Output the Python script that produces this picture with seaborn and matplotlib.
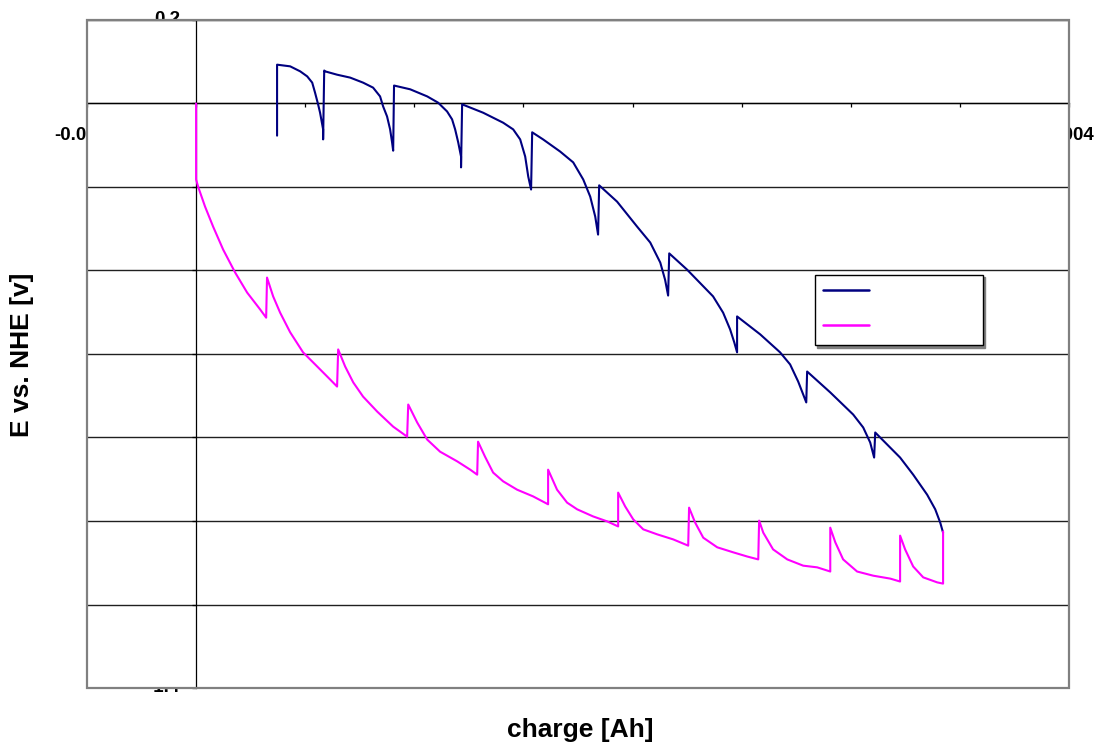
import numpy as np
import pandas as pd
import seaborn as sns
from matplotlib import pyplot as plt
from matplotlib.lines import Line2D
from matplotlib.patches import Rectangle

# upper (navy) sawtooth, charge in mAh and E in V
upper_q = [0.371, 0.371, 0.431, 0.477, 0.509, 0.532, 0.545, 0.559, 0.568, 0.582, 0.582,
           0.587, 0.591, 0.646, 0.706, 0.765, 0.811, 0.843, 0.857, 0.875, 0.889, 0.898, 0.903,
           0.907, 0.981, 1.059, 1.109, 1.150, 1.173, 1.187, 1.201, 1.214, 1.214,
           1.219, 1.315, 1.407, 1.453, 1.485, 1.508, 1.522, 1.535,
           1.540, 1.590, 1.668, 1.728, 1.774, 1.806, 1.829, 1.842,
           1.847, 1.929, 2.021, 2.081, 2.127, 2.149, 2.163,
           2.168, 2.250, 2.369, 2.415, 2.447, 2.466, 2.479,
           2.479, 2.585, 2.676, 2.722, 2.759, 2.782, 2.796,
           2.800, 2.906, 3.011, 3.057, 3.089, 3.107,
           3.112, 3.226, 3.286, 3.350, 3.387, 3.410, 3.423]
upper_e = [-0.077, 0.093, 0.089, 0.077, 0.065, 0.050, 0.026, -0.002, -0.022, -0.062, -0.086,
           0.079, 0.077, 0.069, 0.062, 0.050, 0.038, 0.017, -0.007, -0.031, -0.062, -0.093, -0.113,
           0.043, 0.034, 0.017, 0.002, -0.019, -0.038, -0.062, -0.093, -0.127, -0.153,
           -0.002, -0.022, -0.046, -0.062, -0.086, -0.127, -0.175, -0.206,
           -0.069, -0.086, -0.115, -0.141, -0.182, -0.223, -0.271, -0.314,
           -0.196, -0.235, -0.295, -0.333, -0.381, -0.422, -0.460,
           -0.359, -0.398, -0.462, -0.501, -0.541, -0.572, -0.596,
           -0.510, -0.553, -0.596, -0.625, -0.666, -0.697, -0.716,
           -0.642, -0.692, -0.745, -0.776, -0.812, -0.848,
           -0.788, -0.848, -0.889, -0.937, -0.972, -1.004, -1.028]

# lower (magenta) sawtooth
lower_q = [0.000, 0.000, 0.009, 0.041, 0.078, 0.124, 0.179, 0.234, 0.293, 0.321,
           0.325, 0.353, 0.385, 0.431, 0.490, 0.555, 0.614, 0.646,
           0.651, 0.683, 0.720, 0.765, 0.830, 0.903, 0.967,
           0.972, 1.013, 1.059, 1.118, 1.196, 1.256, 1.288,
           1.292, 1.324, 1.361, 1.407, 1.471, 1.544, 1.613,
           1.613, 1.654, 1.700, 1.746, 1.819, 1.884, 1.934,
           1.934, 1.966, 2.003, 2.049, 2.113, 2.186, 2.255,
           2.259, 2.287, 2.324, 2.388, 2.461, 2.525, 2.576,
           2.580, 2.599, 2.644, 2.709, 2.782, 2.846, 2.906,
           2.906, 2.929, 2.965, 3.029, 3.103, 3.181, 3.226,
           3.226, 3.249, 3.286, 3.332, 3.396, 3.423,
           3.423]
lower_e = [0.000, -0.182, -0.199, -0.247, -0.295, -0.350, -0.405, -0.453, -0.493, -0.513,
           -0.417, -0.462, -0.501, -0.548, -0.596, -0.630, -0.661, -0.678,
           -0.589, -0.630, -0.668, -0.702, -0.738, -0.774, -0.798,
           -0.721, -0.764, -0.805, -0.834, -0.857, -0.877, -0.889,
           -0.810, -0.846, -0.884, -0.905, -0.925, -0.941, -0.960,
           -0.877, -0.925, -0.956, -0.972, -0.989, -1.001, -1.013,
           -0.932, -0.965, -0.996, -1.020, -1.032, -1.044, -1.059,
           -0.968, -1.004, -1.040, -1.063, -1.075, -1.085, -1.092,
           -0.999, -1.028, -1.068, -1.092, -1.107, -1.111, -1.121,
           -1.016, -1.051, -1.092, -1.121, -1.131, -1.138, -1.145,
           -1.035, -1.068, -1.109, -1.135, -1.147, -1.150,
           -1.025]

series_names = ["upper", "lower"]
series_colors = ["#000080", "#FF00FF"]
x_ticks = [-0.0005, 0.0, 0.0005, 0.001, 0.0015, 0.002, 0.0025, 0.003, 0.0035, 0.004]
y_ticks = [-1.4, -1.2, -1.0, -0.8, -0.6, -0.4, -0.2, 0.0, 0.2]


def main():
    df = pd.concat([
        pd.DataFrame({"charge": np.array(upper_q) / 1000, "E": upper_e, "series": "upper"}),
        pd.DataFrame({"charge": np.array(lower_q) / 1000, "E": lower_e, "series": "lower"}),
    ], ignore_index=True)

    sns.set_style("white")
    plt.rcParams["font.family"] = ["Liberation Sans", "DejaVu Sans"]
    plt.rcParams["text.color"] = "black"

    W, H = 1096, 742
    fig = plt.figure(figsize=(W / 100, H / 100), dpi=100)
    fig.patch.set_facecolor("white")
    ax = fig.add_axes([87 / W, 54 / H, 982 / W, 668 / H])
    ax.set_facecolor("white")

    sns.lineplot(
        data=df, x="charge", y="E", hue="series",
        palette=dict(zip(series_names, series_colors)),
        sort=False, estimator=None, linewidth=1.5, legend=False, ax=ax,
    )

    ax.set_xlim(x_ticks[0], x_ticks[-1])
    ax.set_ylim(y_ticks[0], y_ticks[-1])
    ax.set_xticks(x_ticks)
    ax.set_yticks(y_ticks)
    ax.set_xlabel("")
    ax.set_ylabel("")
    ax.yaxis.grid(True, color="#202020", linewidth=1.0)
    ax.xaxis.grid(False)

    for side in ["top", "right"]:
        ax.spines[side].set_visible(False)
    ax.spines["left"].set_position(("data", 0))
    ax.spines["bottom"].set_position(("data", 0))
    for side in ["left", "bottom"]:
        ax.spines[side].set_color("black")
        ax.spines[side].set_linewidth(0.9)
        ax.spines[side].set_zorder(1.5)
    ax.tick_params(axis="both", direction="out", length=3, width=0.9, color="black",
                   labelbottom=False, labelleft=False, bottom=True, left=True)
    ax.add_patch(Rectangle((0, 0), 1, 1, transform=ax.transAxes, fill=False,
                           edgecolor="#808080", linewidth=1.6, clip_on=False, zorder=3))

    # tick labels sit behind the plot area, so only fragments show
    tick_font = dict(fontsize=13.5, fontweight="bold", color="black", zorder=-1)
    fig.text(180 / W, 1 - 20 / H, "0.2", ha="right", va="center", **tick_font)
    fig.text(180 / W, 1 - 688 / H, "-1.4", ha="right", va="center", **tick_font)
    fig.text(86 / W, 1 - 135 / H, "-0.0005", ha="center", va="center", **tick_font)
    fig.text(1071 / W, 1 - 135 / H, "0.004", ha="center", va="center", **tick_font)

    fig.text(580 / W, 1 - 730 / H, "charge [Ah]", ha="center", va="center",
             fontsize=19, fontweight="bold", color="black")
    fig.text(22 / W, 1 - 355 / H, "E vs. NHE [v]", ha="center", va="center",
             rotation=90, fontsize=19, fontweight="bold", color="black")

    handles = [Line2D([], [], color=c, linewidth=1.8) for c in series_colors]
    leg = ax.legend(
        handles, ["", ""], loc="upper left",
        bbox_to_anchor=(0.741, 0.512, 0.171, 0.107), mode="expand", borderaxespad=0,
        fontsize=10, borderpad=0.62, handleheight=1.7, handlelength=3.3,
        labelspacing=1.17, fancybox=False, framealpha=1, edgecolor="black",
        shadow={"color": "#808080", "alpha": 1, "ox": 2, "oy": -2},
    )
    leg.get_frame().set_linewidth(1.0)

    fig.savefig("out.png", dpi=100)


if __name__ == "__main__":
    main()
